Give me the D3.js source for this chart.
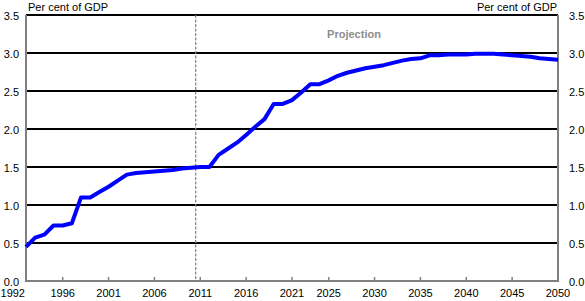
<!DOCTYPE html>
<html><head><meta charset="utf-8">
<script src="https://cdn.jsdelivr.net/npm/d3@7"></script>
<style>body{margin:0;background:#fff}svg{display:block;font-family:"Liberation Sans",Arial,sans-serif}</style>
</head><body><svg id="c" width="585" height="301"></svg>
<script>
const years = d3.range(1992, 2051);
const values = [0.45,0.57,0.61,0.73,0.73,0.76,1.10,1.10,1.17,1.24,1.32,1.40,1.42,1.43,1.44,1.45,1.46,1.48,1.49,
  1.50,1.50,1.66,1.74,1.82,1.92,2.03,2.13,2.33,2.33,2.38,2.48,2.59,2.59,2.64,2.70,2.74,2.77,2.80,2.82,2.84,2.87,2.90,2.92,2.93,
  2.97,2.97,2.98,2.98,2.98,2.99,2.99,2.99,2.98,2.97,2.96,2.95,2.93,2.92,2.91];
const xTicks = [1992,1996,2001,2006,2011,2016,2021,2025,2030,2035,2040,2045,2050];
const yTicks = [0,0.5,1,1.5,2,2.5,3,3.5];
const projectionStart = 2010.5;
const data = years.map((y,i)=>({year:y,value:values[i]}));

const svg = d3.select("#c");
const L=26,R=558,T=15,B=281;
const x = d3.scaleLinear().domain([1992,2050]).range([L,R]);
const y = d3.scaleLinear().domain([0,3.5]).range([B,T]);

// gridlines
svg.append("g").selectAll("line").data(yTicks.filter(d=>d>0)).join("line")
  .attr("x1",L).attr("x2",R).attr("y1",d=>y(d)).attr("y2",d=>y(d))
  .attr("stroke","#000").attr("stroke-width",2);

// projection line
svg.append("line").attr("x1",x(projectionStart)).attr("x2",x(projectionStart))
  .attr("y1",T).attr("y2",B).attr("stroke","#808080").attr("stroke-width",1.2).attr("stroke-dasharray","3,1.5");

// axes frame
svg.append("line").attr("x1",L).attr("x2",L).attr("y1",T).attr("y2",B+1).attr("stroke","#808080").attr("stroke-width",2);
svg.append("line").attr("x1",R).attr("x2",R).attr("y1",T).attr("y2",B+1).attr("stroke","#808080").attr("stroke-width",2);
svg.append("line").attr("x1",L).attr("x2",R).attr("y1",B).attr("y2",B).attr("stroke","#808080").attr("stroke-width",2);

// x ticks
svg.append("g").selectAll("line").data(xTicks).join("line")
  .attr("x1",d=>x(d)).attr("x2",d=>x(d)).attr("y1",B).attr("y2",B-4)
  .attr("stroke","#808080").attr("stroke-width",1.5);
svg.append("g").selectAll("text").data(xTicks).join("text")
  .attr("x",(d,i)=> i===0 ? x(d)-1 : x(d)).attr("y",297)
  .attr("text-anchor",(d,i)=> i===0 ? "end" : "middle")
  .attr("font-size",11).attr("fill","#000").text(d=>d);

// y labels
const fmt = d3.format(".1f");
svg.append("g").selectAll("text").data(yTicks).join("text")
  .attr("x",19).attr("y",d=>y(d)+5).attr("text-anchor","end")
  .attr("font-size",11).text(d=>fmt(d));
svg.append("g").selectAll("text").data(yTicks).join("text")
  .attr("x",569).attr("y",d=>y(d)+5).attr("text-anchor","start")
  .attr("font-size",11).text(d=>fmt(d));

svg.append("text").attr("x",28).attr("y",11).attr("font-size",11).text("Per cent of GDP");
svg.append("text").attr("x",557).attr("y",11).attr("font-size",11).attr("text-anchor","end").text("Per cent of GDP");
svg.append("text").attr("x",354).attr("y",38).attr("font-size",11).attr("font-weight","bold")
  .attr("text-anchor","middle").attr("fill","#8c8c8c").text("Projection");

// series
svg.append("path").datum(data)
  .attr("d", d3.line().x(d=>x(d.year)).y(d=>y(d.value)))
  .attr("fill","none").attr("stroke","#0000ff").attr("stroke-width",4).attr("stroke-linejoin","round");
</script></body></html>
